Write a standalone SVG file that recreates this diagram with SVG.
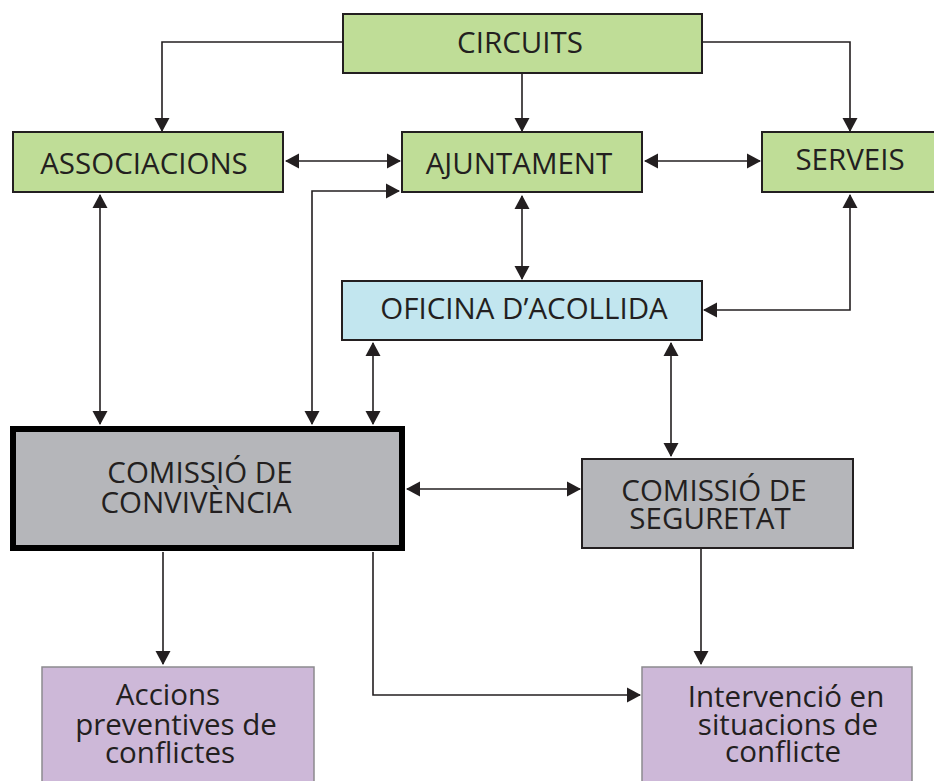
<svg xmlns="http://www.w3.org/2000/svg" width="934" height="781" viewBox="0 0 934 781">
<style>
  .box { stroke: #231f20; stroke-width: 2; }
  .green { fill: #bfdd97; }
  .blue { fill: #c2e6ef; }
  .grey { fill: #b5b6ba; }
  .purple { fill: #cdb8d8; stroke: #8c8a8e; stroke-width: 1.5; }
  .lbl { font-family: "Open Sans", "Noto Sans", "DejaVu Sans", sans-serif; font-size: 29.5px; fill: #231f20; text-anchor: middle; }
  .conn path { fill: none; stroke: #231f20; stroke-width: 1.6; }
</style>
<defs>
  <marker id="ah" markerUnits="userSpaceOnUse" markerWidth="14" markerHeight="16" viewBox="0 0 14 16" refX="13" refY="8" orient="auto-start-reverse">
    <path d="M0,0.5 L14,8 L0,15.5 z" fill="#231f20"/>
  </marker>
</defs>
<rect width="934" height="781" fill="#ffffff"/>

<g class="conn">
  <path d="M342,42 H162 V131" marker-end="url(#ah)"/>
  <path d="M522,73 V131" marker-end="url(#ah)"/>
  <path d="M702,42 H850 V131" marker-end="url(#ah)"/>
  <path d="M286,161 H400" marker-start="url(#ah)" marker-end="url(#ah)"/>
  <path d="M645,161 H760" marker-start="url(#ah)" marker-end="url(#ah)"/>
  <path d="M312,424 V191 H399" marker-start="url(#ah)" marker-end="url(#ah)"/>
  <path d="M100,195 V424" marker-start="url(#ah)" marker-end="url(#ah)"/>
  <path d="M522,196 V279" marker-start="url(#ah)" marker-end="url(#ah)"/>
  <path d="M850,195 V310 H704" marker-start="url(#ah)" marker-end="url(#ah)"/>
  <path d="M373,343 V424" marker-start="url(#ah)" marker-end="url(#ah)"/>
  <path d="M671,343 V456" marker-start="url(#ah)" marker-end="url(#ah)"/>
  <path d="M407,489 H580" marker-start="url(#ah)" marker-end="url(#ah)"/>
  <path d="M163,552 V664" marker-end="url(#ah)"/>
  <path d="M373,552 V695 H640" marker-end="url(#ah)"/>
  <path d="M701,549 V664" marker-end="url(#ah)"/>
</g>

<g id="circuits">
  <rect class="box green" x="343" y="14" width="359" height="59"/>
  <text class="lbl" x="520" y="53">CIRCUITS</text>
</g>
<g id="associacions">
  <rect class="box green" x="13" y="132" width="270" height="60"/>
  <text class="lbl" x="144" y="174">ASSOCIACIONS</text>
</g>
<g id="ajuntament">
  <rect class="box green" x="402" y="132" width="240" height="60"/>
  <text class="lbl" x="519" y="174">AJUNTAMENT</text>
</g>
<g id="serveis">
  <rect class="box green" x="762" y="132" width="180" height="60"/>
  <text class="lbl" x="850" y="170">SERVEIS</text>
</g>
<g id="oficina">
  <rect class="box blue" x="342" y="281" width="360" height="59"/>
  <text class="lbl" x="524" y="319">OFICINA D’ACOLLIDA</text>
</g>
<g id="comissio-convivencia">
  <rect x="13" y="429" width="389" height="119" fill="#b5b6ba" stroke="#000000" stroke-width="6"/>
  <text class="lbl" x="200" y="483">COMISSIÓ DE</text>
  <text class="lbl" x="196" y="513">CONVIVÈNCIA</text>
</g>
<g id="comissio-seguretat">
  <rect class="box grey" x="582" y="459" width="271" height="89"/>
  <text class="lbl" x="714" y="501">COMISSIÓ DE</text>
  <text class="lbl" x="710" y="529">SEGURETAT</text>
</g>
<g id="accions">
  <rect class="purple" x="42" y="667" width="272" height="130"/>
  <text class="lbl" x="168" y="705">Accions</text>
  <text class="lbl" x="176" y="735">preventives de</text>
  <text class="lbl" x="170" y="763">conflictes</text>
</g>
<g id="intervencio">
  <rect class="purple" x="642" y="667" width="270" height="130"/>
  <text class="lbl" x="786" y="707">Intervenció en</text>
  <text class="lbl" x="788" y="735">situacions de</text>
  <text class="lbl" x="783" y="762">conflicte</text>
</g>
</svg>
